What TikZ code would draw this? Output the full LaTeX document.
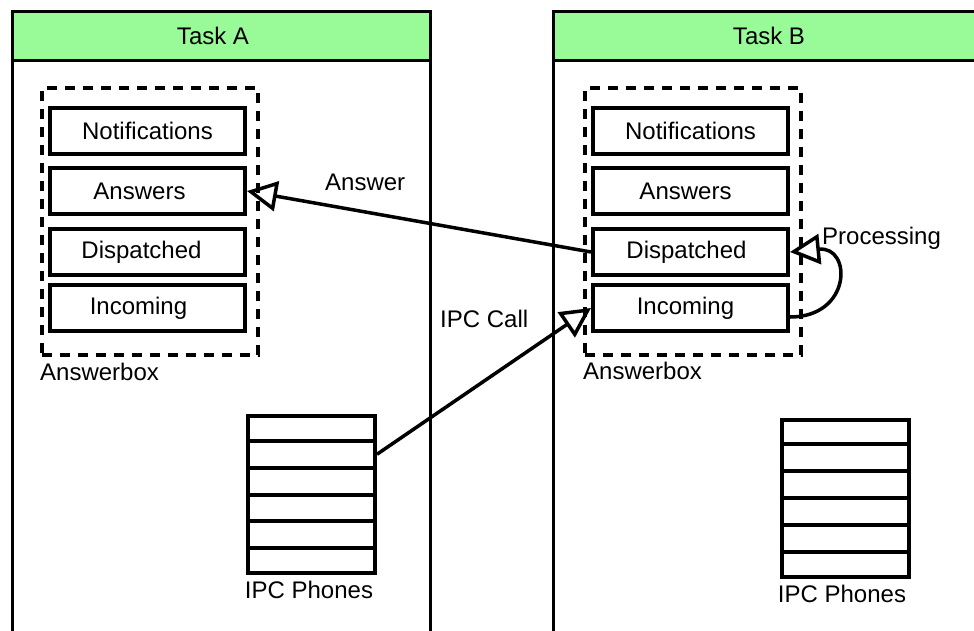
\documentclass[tikz,border=0pt]{standalone}
\usepackage{fontspec}
\setmainfont{Liberation Sans}
\usetikzlibrary{arrows.meta,calc}
\definecolor{hdrgreen}{RGB}{152,251,152}
\begin{document}
\begin{tikzpicture}[x=1pt,y=-1pt,
  font=\fontsize{24}{28}\selectfont,
  frame/.style={draw,line width=3pt},
  header/.style={draw,line width=3pt,fill=hdrgreen,minimum height=49pt,inner sep=0pt},
  abox/.style={draw,line width=4pt,dash pattern=on 10pt off 8pt,minimum width=216pt,minimum height=267pt,inner sep=0pt},
  slot/.style={draw,line width=4pt,minimum width=195pt,minimum height=46pt,inner sep=0pt},
  phones/.style={draw,line width=4pt,minimum width=127pt,minimum height=157pt,inner sep=0pt},
  plain/.style={inner sep=0pt},
  link/.style={line width=3.5pt,-{Triangle[open,length=30pt 0,width=30pt 0,line width=3.5pt]}},
]
\useasboundingbox (0,0) rectangle (974,630);
\clip (0,0) rectangle (974,630);

% task frames
\draw[frame] (12,11) rectangle (430,660);
\draw[frame] (553,11) rectangle (985,660);
\node[header,minimum width=418pt] (hdrA) at (221,35.5) {\hspace*{-16pt}Task A};
\node[header,minimum width=432pt] (hdrB) at (769,35.5) {Task B};

% answerboxes
\node[abox] (abA) at (149.5,221.5) {};
\node[abox] (abB) at (693,221.5) {};
\node[plain,anchor=base west] (abAlbl) at (40,380) {Answerbox};
\node[plain,anchor=base west] (abBlbl) at (583,379) {Answerbox};

% queues of task A
\node[slot] (notA) at (147.5,131) {Notifications};
\node[slot] (ansA) at (147.5,191) {\hspace*{-16pt}Answers};
\node[slot] (disA) at (147.5,252) {\hspace*{-12pt}Dispatched};
\node[slot] (incA) at (147.5,308) {\hspace*{-18pt}Incoming};

% queues of task B
\node[slot] (notB) at (690.5,131) {Notifications};
\node[slot] (ansB) at (690.5,191) {\hspace*{-10pt}Answers};
\node[slot] (disB) at (690.5,252) {\hspace*{-8pt}Dispatched};
\node[slot] (incB) at (690.5,308) {\hspace*{-10pt}Incoming};

% phone tables
\node[phones] (phA) at (311.5,494.5) {};
\node[phones] (phB) at (845,498) {};
\foreach \k in {1,...,5} {
  \draw[line width=4pt] ($(phA.north west)!\k/6!(phA.south west)$) -- ($(phA.north east)!\k/6!(phA.south east)$);
  \draw[line width=4pt] ($(phB.north west)!\k/6!(phB.south west)$) -- ($(phB.north east)!\k/6!(phB.south east)$);
}
\node[plain,anchor=base] (phAlbl) at (309,598) {IPC Phones};
\node[plain,anchor=base] (phBlbl) at (842,602) {IPC Phones};

% connectors
\draw[link] (disB.west) -- (ansA.east);
\node[plain,anchor=base west] (ansLbl) at (325,190) {Answer};

\coordinate (callS) at ($(phA.north east)!0.25!(phA.south east)$);
\draw[link] (callS) -- (incB.west);
\node[plain,anchor=base west] (callLbl) at (440,327) {IPC Call};

\coordinate (procS) at ($(incB.east)+(0,9)$);
\draw[link] (procS) .. controls +(62,0) and +(62,-6) .. (disB.east);
\node[plain,anchor=base west] (procLbl) at (822,244) {Processing};
\end{tikzpicture}
\end{document}
